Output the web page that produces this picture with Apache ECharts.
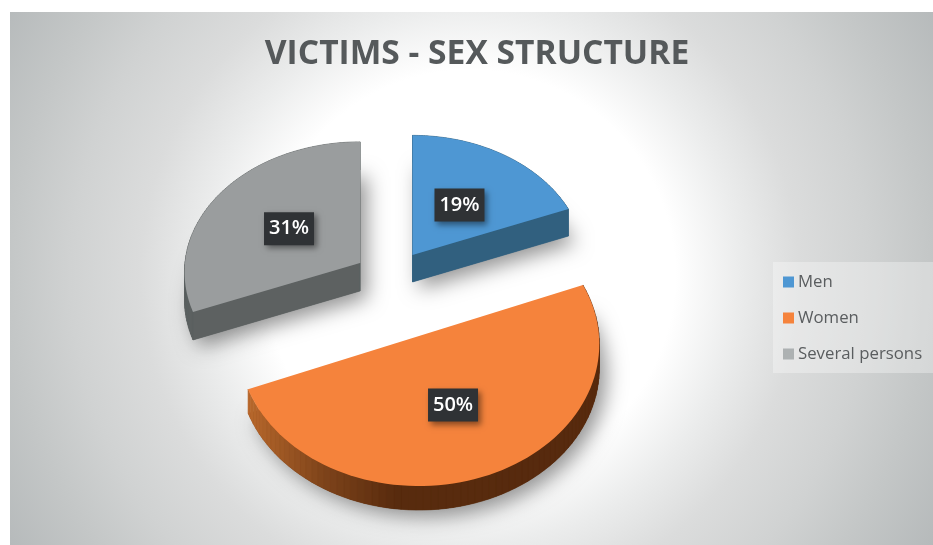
<!DOCTYPE html>
<html><head><meta charset="utf-8">
<style>html,body{margin:0;padding:0;background:#fff}#c{width:933px;height:545px}</style>
<script src="https://cdn.jsdelivr.net/npm/echarts@6/dist/echarts.min.js"></script>
</head><body><div id="c"></div>
<script>
const categories = ['Men', 'Women', 'Several persons'];
const values = [19, 50, 31];
const titleText = 'VICTIMS - SEX STRUCTURE';

const total = values.reduce((a, b) => a + b, 0);
const legendColors = ['#4e97d3', '#f5833c', '#adb1b2'];
const faces = ['#4e97d3', '#f5833c', '#9a9d9e'];
const sideStops = [
  [[0, '#31607f'], [1, '#31607f']],
  [[0, '#b8682c'], [0.22, '#7d431a'], [0.42, '#582b0e'], [1, '#572a0e']],
  [[0, '#5d6161'], [1, '#5d6161']]
];
const geom = [
  { cx: 412.5, cy: 255, rx: 172, ry: 128, k: 0.07, depth: 27, skipRadial: false },
  { cx: 419, cy: 336, rx: 180, ry: 141.5, k: 0.057, depth: 24, skipRadial: true },
  { cx: 360, cy: 263, rx: 175, ry: 129.6, k: 0.07, depth: 28, skipRadial: false }
];

function project(g, u, v) {
  const w = 1 - g.k * v;
  return [g.cx + g.rx * u / w, g.cy + g.ry * v / w];
}
function hex(x) { return [1, 3, 5].map(o => parseInt(x.substr(o, 2), 16)); }
function stopColor(st, t) {
  for (let s = 0; s < st.length - 1; s++) {
    if (t <= st[s + 1][0]) {
      const f = Math.max(0, (t - st[s][0]) / (st[s + 1][0] - st[s][0]));
      const A = hex(st[s][1]), B = hex(st[s + 1][1]);
      return 'rgb(' + A.map((v, m) => Math.round(v + (B[m] - v) * f)).join(',') + ')';
    }
  }
  return st[st.length - 1][1];
}
function sliceRender(idx) {
  return function () {
    const g = geom[idx];
    const before = values.slice(0, idx).reduce((a, b) => a + b, 0);
    const a0 = before / total * Math.PI * 2;
    const a1 = (before + values[idx]) / total * Math.PI * 2;
    const top = [project(g, 0, 0)];
    const n = 80;
    for (let i = 0; i <= n; i++) {
      const a = a0 + (a1 - a0) * i / n;
      top.push(project(g, Math.sin(a), -Math.cos(a)));
    }
    const children = [];
    const low = top.map(p => [p[0], p[1] + g.depth]);
    children.push({ type: 'polygon', shape: { points: low }, style: {
      fill: stopColor(sideStops[idx], 0.4), shadowBlur: 20, shadowOffsetX: 7, shadowOffsetY: 7, shadowColor: 'rgba(0,0,0,0.42)' } });
    const xs = top.map(p => p[0]);
    const minX = Math.min(...xs), maxX = Math.max(...xs);
    for (let i = 0; i < top.length; i++) {
      const j = (i + 1) % top.length;
      if (g.skipRadial && (i === 0 || j === 0)) continue;
      const p = top[i], q = top[j];
      const fill = stopColor(sideStops[idx], ((p[0] + q[0]) / 2 - minX) / (maxX - minX));
      children.push({ type: 'polygon', shape: { points: [p, q, [q[0], q[1] + g.depth], [p[0], p[1] + g.depth]] },
        style: { fill: fill, stroke: fill, lineWidth: 0.6 } });
    }
    children.push({ type: 'polygon', shape: { points: top }, style: { fill: faces[idx] } });
    const mid = (a0 + a1) / 2;
    const c = project(g, 0.5 * Math.sin(mid), -0.5 * Math.cos(mid));
    const pct = Math.round(values[idx] / total * 100) + '%';
    children.push({ type: 'rect', z2: 10, shape: { x: c[0] - 25, y: c[1] - 15, width: 50, height: 33 }, style: {
      fill: '#2f3235', shadowBlur: 6, shadowOffsetX: 3, shadowOffsetY: 3, shadowColor: 'rgba(0,0,0,0.45)' } });
    children.push({ type: 'text', z2: 11, style: { text: pct, x: c[0], y: c[1] + 1.5, align: 'center', verticalAlign: 'middle',
      fill: '#fff', font: '600 20px "Open Sans"' } });
    return { type: 'group', children: children };
  };
}

const chart = echarts.init(document.getElementById('c'), null, { renderer: 'canvas' });
chart.setOption({
  animation: false,
  backgroundColor: '#fff',
  graphic: [{
    type: 'rect', z: -10, silent: true,
    shape: { x: 10, y: 12, width: 923, height: 533 },
    style: { fill: { type: 'radial', global: true, x: 470, y: 275, r: 540, colorStops: [
      { offset: 0, color: '#ffffff' }, { offset: 0.38, color: '#ffffff' }, { offset: 0.5, color: '#ebecec' },
      { offset: 0.61, color: '#dbdcdc' }, { offset: 0.74, color: '#d0d2d2' },
      { offset: 0.85, color: '#c4c7c7' }, { offset: 1, color: '#b5b9ba' }] } }
  }, {
    type: 'rect', z: -9, silent: true,
    shape: { x: 773, y: 262, width: 160, height: 111 },
    style: { fill: 'rgba(255,255,255,0.32)' }
  }],
  title: {
    text: titleText, left: 472, top: 32, textAlign: 'center',
    textStyle: { fontFamily: 'Open Sans', fontWeight: 700, fontSize: 33.6, color: '#55595b' }
  },
  legend: {
    orient: 'vertical', left: 773, top: 262,
    padding: [11, 10, 11, 10], itemGap: 18, itemWidth: 11, itemHeight: 11, icon: 'rect',
    textStyle: { fontFamily: 'Open Sans', fontSize: 16.8, color: '#5a5d5f', padding: [0, 0, 0, -1], height: 18, lineHeight: 18 },
    selectedMode: false,
    data: categories.map((name, i) => ({ name: name, itemStyle: { color: legendColors[i] } }))
  },
  series: categories.map((name, i) => ({
    type: 'custom', name: name, coordinateSystem: 'none', z: i === 1 ? 3 : 2,
    itemStyle: { color: legendColors[i] },
    renderItem: sliceRender(i), data: [[values[i]]], silent: true
  }))
});
</script></body></html>
